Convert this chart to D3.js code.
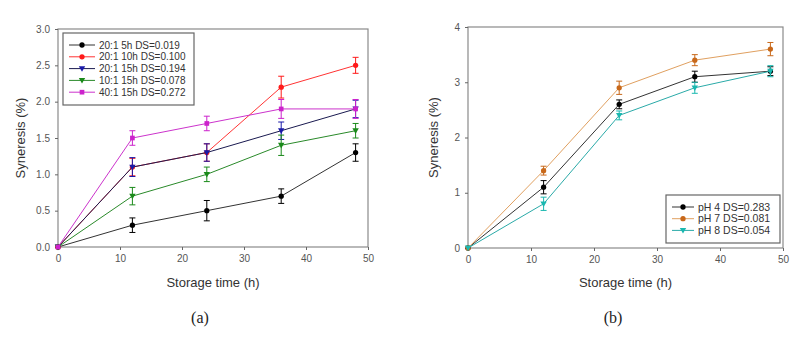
<!DOCTYPE html>
<meta charset="utf-8">
<style>
  body { margin: 0; background: #fff; }
  text { font-family: "Liberation Sans", Arial, sans-serif; }
</style>
<svg width="802" height="343"></svg>
<script src="https://cdn.jsdelivr.net/npm/d3@7"></script>
<script>

// storage time (h)
var hours = [0, 12, 24, 36, 48];

// panel (a)
var namesA = ["20:1 5h DS=0.019", "20:1 10h DS=0.100", "20:1 15h DS=0.194", "10:1 15h DS=0.078", "40:1 15h DS=0.272"];
var valuesA = [
  [0, 0.3, 0.5, 0.7, 1.3],
  [0, 1.1, 1.3, 2.2, 2.5],
  [0, 1.1, 1.3, 1.6, 1.9],
  [0, 0.7, 1.0, 1.4, 1.6],
  [0, 1.5, 1.7, 1.9, 1.9]
];
var errorsA = [
  [0, 0.1, 0.14, 0.1, 0.12],
  [0, 0.12, 0.12, 0.15, 0.11],
  [0, 0.13, 0.12, 0.12, 0.12],
  [0, 0.12, 0.1, 0.14, 0.1],
  [0, 0.1, 0.1, 0.13, 0.13]
];
var yTicksA = [0, 0.5, 1.0, 1.5, 2.0, 2.5, 3.0];

// panel (b)
var namesB = ["pH 4 DS=0.283", "pH 7 DS=0.081", "pH 8 DS=0.054"];
var valuesB = [
  [0, 1.1, 2.6, 3.1, 3.2],
  [0, 1.4, 2.9, 3.4, 3.6],
  [0, 0.8, 2.4, 2.9, 3.2]
];
var errorsB = [
  [0, 0.12, 0.08, 0.1, 0.08],
  [0, 0.08, 0.12, 0.1, 0.12],
  [0, 0.12, 0.08, 0.1, 0.1]
];
var yTicksB = [0, 1, 2, 3, 4];
var xTicks = [0, 10, 20, 30, 40, 50];

var svg = d3.select("svg");
svg.append("rect").attr("width", 802).attr("height", 343).attr("fill", "#fff");

function panel(cfg) {
  var x = d3.scaleLinear().domain([0, 50]).range([cfg.left, cfg.right]);
  var y = d3.scaleLinear().domain([0, cfg.ymax]).range([cfg.bottom, cfg.top]);
  var g = svg.append("g");

  // frame
  g.append("rect")
    .attr("x", cfg.left).attr("y", cfg.top)
    .attr("width", cfg.right - cfg.left).attr("height", cfg.bottom - cfg.top)
    .attr("fill", "none").attr("stroke", "#8a8a8a").attr("stroke-width", 1.2);

  var ax = g.append("g").attr("transform", "translate(0," + cfg.bottom + ")")
    .call(d3.axisBottom(x).tickValues(xTicks).tickSize(3).tickPadding(5));
  var ay = g.append("g").attr("transform", "translate(" + cfg.left + ",0)")
    .call(d3.axisLeft(y).tickValues(cfg.yTicks).tickSize(3).tickPadding(5).tickFormat(d3.format(cfg.fmt)));
  [ax, ay].forEach(function (a) {
    a.select(".domain").remove();
    a.selectAll("line").attr("stroke", "#666");
    a.selectAll("text").attr("fill", "#555").attr("font-size", 10)
      .attr("font-family", "Liberation Sans, Arial, sans-serif");
  });

  g.append("text").attr("x", (cfg.left + cfg.right) / 2 + cfg.titleDx).attr("y", 287)
    .attr("text-anchor", "middle").attr("font-size", 13).attr("fill", "#333")
    .text("Storage time (h)");
  g.append("text")
    .attr("transform", "translate(" + cfg.ylabX + "," + ((cfg.top + cfg.bottom) / 2) + ") rotate(-90)")
    .attr("text-anchor", "middle").attr("font-size", 13).attr("fill", "#333")
    .text("Syneresis (%)");
  g.append("text").attr("x", cfg.capX).attr("y", 323)
    .attr("text-anchor", "middle").attr("font-size", 16).attr("fill", "#222")
    .style("font-family", "Liberation Serif, Times New Roman, serif")
    .text(cfg.caption);

  var line = d3.line().x(function (d, i) { return x(hours[i]); }).y(function (d) { return y(d); });

  cfg.values.forEach(function (vals, s) {
    var sg = g.append("g");
    sg.append("path").datum(vals).attr("d", line)
      .attr("fill", "none").attr("stroke", cfg.lineColors[s]).attr("stroke-width", 1);
    vals.forEach(function (v, i) {
      var e = cfg.errors[s][i];
      if (e > 0) {
        var cx = x(hours[i]);
        sg.append("path")
          .attr("d", "M" + (cx - 3) + "," + y(v + e) + "H" + (cx + 3) +
                     "M" + cx + "," + y(v + e) + "V" + y(v - e) +
                     "M" + (cx - 3) + "," + y(v - e) + "H" + (cx + 3))
          .attr("fill", "none").attr("stroke", cfg.colors[s]).attr("stroke-width", 1);
      }
    });
    sg.selectAll(".m").data(vals).enter().append("path")
      .attr("transform", function (d, i) { return "translate(" + x(hours[i]) + "," + y(d) + ")"; })
      .attr("d", marker(cfg.shapes[s]))
      .attr("fill", cfg.colors[s]);
  });

  // legend
  var L = cfg.legend;
  var lg = g.append("g");
  lg.append("rect").attr("x", L.x).attr("y", L.y).attr("width", L.w).attr("height", L.h)
    .attr("fill", "#fff").attr("stroke", "#666").attr("stroke-width", 1.2);
  cfg.names.forEach(function (n, s) {
    var yy = L.y + L.first + s * L.step;
    lg.append("line").attr("x1", L.x + 6).attr("x2", L.x + 6 + L.lineW)
      .attr("y1", yy).attr("y2", yy).attr("stroke", cfg.lineColors[s]).attr("stroke-width", 1);
    lg.append("path").attr("transform", "translate(" + (L.x + 6 + L.lineW / 2) + "," + yy + ")")
      .attr("d", marker(cfg.shapes[s])).attr("fill", cfg.colors[s]);
    lg.append("text").attr("x", L.x + L.lineW + 10).attr("y", yy + 3.5)
      .attr("font-size", L.font).attr("fill", "#333").text(n);
  });
}

function marker(shape) {
  if (shape === "circle") return d3.symbol(d3.symbolCircle, 22)();
  if (shape === "square") return d3.symbol(d3.symbolSquare, 22)();
  return "M-3.2,-2.4L3.2,-2.4L0,3.2Z";
}

panel({
  left: 58, right: 368, top: 29, bottom: 247, ymax: 3, yTicks: yTicksA, fmt: ".1f",
  values: valuesA, errors: errorsA, names: namesA,
  colors: ["#000", "#ff1a1a", "#1a1aa8", "#1a8a1a", "#cc22cc"],
  lineColors: ["#333", "#ff3333", "#1a1a50", "#2a8a2a", "#cc33cc"],
  shapes: ["circle", "circle", "tri", "tri", "square"],
  titleDx: 0, ylabX: 25, capX: 200, caption: "(a)",
  legend: { x: 63, y: 33, w: 131, h: 72, first: 12, step: 11.8, lineW: 26, font: 10 }
});

panel({
  left: 468, right: 783, top: 27, bottom: 248, ymax: 4, yTicks: yTicksB, fmt: "d",
  values: valuesB, errors: errorsB, names: namesB,
  colors: ["#000", "#c8681a", "#1ab8b0"],
  lineColors: ["#333", "#e0a060", "#2aaaa8"],
  shapes: ["circle", "circle", "tri"],
  titleDx: 0, ylabX: 438, capX: 613, caption: "(b)",
  legend: { x: 666, y: 195, w: 114, h: 48, first: 12, step: 11.7, lineW: 22, font: 10.5 }
});

</script>
